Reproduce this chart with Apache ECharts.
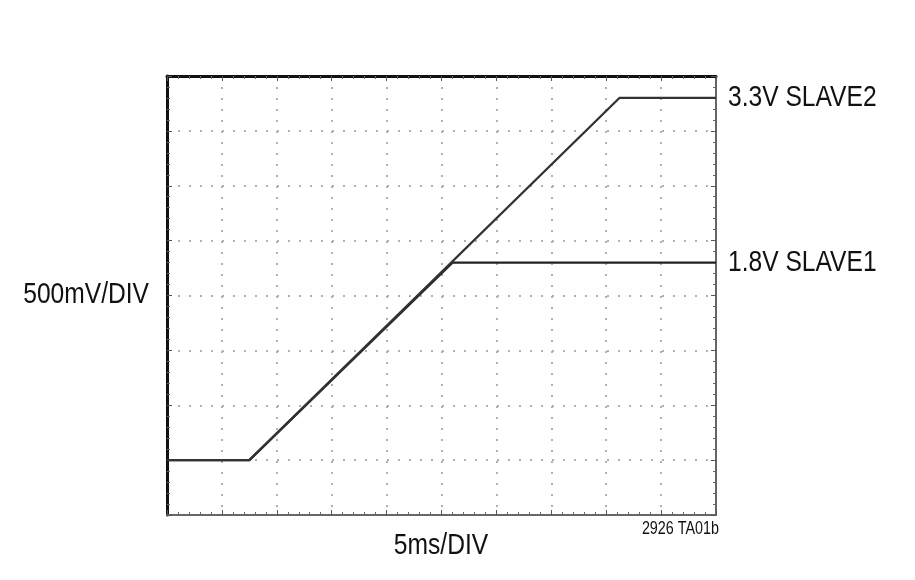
<!DOCTYPE html>
<html>
<head>
<meta charset="utf-8">
<script src="https://cdn.jsdelivr.net/npm/echarts@6/dist/echarts.min.js"></script>
<style>
html,body{margin:0;padding:0;background:#fff;}
#chart{width:915px;height:580px;}
</style>
</head>
<body>
<div id="chart"></div>
<script>
// Data (time in ms, voltage in V)
const slave1Time = [0, 7.5, 26.0, 50];
const slave1Volts = [0, 0, 1.8, 1.8];
const slave2Time = [0, 7.5, 41.2, 50];
const slave2Volts = [0, 0, 3.3, 3.3];
const seriesNames = ['1.8V SLAVE1', '3.3V SLAVE2'];
const xTitle = '5ms/DIV';
const yTitle = '500mV/DIV';
const figId = '2926 TA01b';

const FONT = '"Liberation Sans", Arial, sans-serif';
const NARROW = 0.82;

function pairs(xs, ys) { return xs.map((x, i) => [x, ys[i]]); }

const chart = echarts.init(document.getElementById('chart'), null, {renderer: 'canvas'});

const dotted = {show: true, lineStyle: {color: '#b0b0b0', width: 2, type: [2, 9], dashOffset: 0}};

const baseAxis = {
  type: 'value',
  axisLabel: {show: false},
  axisTick: {show: true, inside: true, length: 5, lineStyle: {color: '#555', width: 1}},
  minorTick: {show: true, splitNumber: 5, length: 3, lineStyle: {color: '#666', width: 1}},
  minorSplitLine: {show: false}
};

const option = {
  backgroundColor: '#ffffff',
  animation: false,
  grid: {left: 167, top: 76, width: 549, height: 439, containLabel: false},
  xAxis: [
    Object.assign({}, baseAxis, {
      position: 'bottom', min: 0, max: 50, interval: 5,
      axisLine: {show: true, onZero: false, lineStyle: {color: '#666', width: 2}},
      splitLine: dotted
    }),
    Object.assign({}, baseAxis, {
      position: 'top', min: 0, max: 50, interval: 5,
      axisLine: {show: true, onZero: false, lineStyle: {color: '#111', width: 3}},
      splitLine: {show: false}
    })
  ],
  yAxis: [
    Object.assign({}, baseAxis, {
      position: 'left', min: -0.5, max: 3.5, interval: 0.5,
      axisLine: {show: true, onZero: false, lineStyle: {color: '#111', width: 3}},
      splitLine: dotted
    }),
    Object.assign({}, baseAxis, {
      position: 'right', min: -0.5, max: 3.5, interval: 0.5,
      axisLine: {show: true, onZero: false, lineStyle: {color: '#666', width: 2}},
      splitLine: {show: false}
    })
  ],
  series: [
    {
      name: seriesNames[0], type: 'line', xAxisIndex: 0, yAxisIndex: 0,
      data: pairs(slave1Time, slave1Volts),
      symbol: 'none', clip: false,
      lineStyle: {color: '#222', width: 2.3}
    },
    {
      name: seriesNames[1], type: 'line', xAxisIndex: 0, yAxisIndex: 0,
      data: pairs(slave2Time, slave2Volts),
      symbol: 'none', clip: false,
      lineStyle: {color: '#333', width: 2.3}
    }
  ]
};
chart.setOption(option);

function narrowText(x, y, text, size, align) {
  return {type: 'text', x: x, y: y, scaleX: NARROW, scaleY: 1,
    style: {text: text, fill: '#111', font: size + 'px ' + FONT, textAlign: align, textVerticalAlign: 'middle'}};
}

const p1 = chart.convertToPixel({xAxisIndex: 0, yAxisIndex: 0}, [slave1Time[slave1Time.length - 1], slave1Volts[slave1Volts.length - 1]]);
const p2 = chart.convertToPixel({xAxisIndex: 0, yAxisIndex: 0}, [slave2Time[slave2Time.length - 1], slave2Volts[slave2Volts.length - 1]]);

chart.setOption({
  graphic: [
    narrowText(p1[0] + 12, p1[1], seriesNames[0], 30, 'left'),
    narrowText(p2[0] + 12, p2[1], seriesNames[1], 30, 'left'),
    narrowText(149, 295, yTitle, 30, 'right'),
    narrowText(441, 546, xTitle, 30, 'center'),
    narrowText(719, 529, figId, 17.5, 'right')
  ]
});
</script>
</body>
</html>
